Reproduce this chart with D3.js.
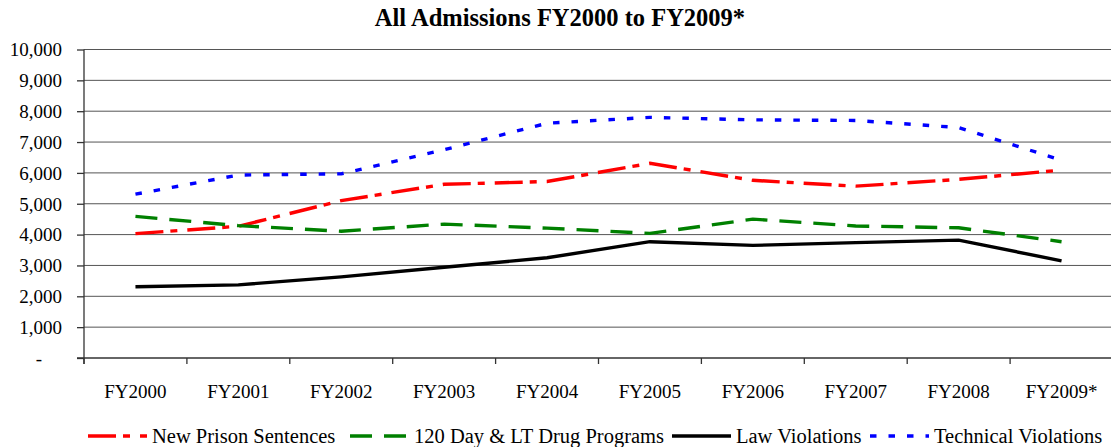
<!DOCTYPE html>
<html>
<head>
<meta charset="utf-8">
<script src="https://cdn.jsdelivr.net/npm/d3@7"></script>
<style>
    body { margin: 0; background: #fff; }
    svg { display: block; font-family: "Liberation Serif", "Times New Roman", serif; }
    .grid line { stroke: #555; stroke-width: 1; }
    .axis path, .axis line { stroke: #333; stroke-width: 1.3; }
    .axis text { fill: #000; font-size: 19px; }
    .series { fill: none; stroke-width: 3.4; }
</style>
</head>
<body>
<svg id="chart" width="1111" height="447"></svg>
<script>
const WIDTH = 1111;
const HEIGHT = 447;
const LEFT = 84;
const RIGHT = 1113;
const TOP = 49.5;
const BOTTOM = 358;
const SERIF = "'Liberation Serif', 'Times New Roman', serif";

const YEARS = ["FY2000", "FY2001", "FY2002", "FY2003", "FY2004", "FY2005", "FY2006", "FY2007", "FY2008", "FY2009*"];
const Y_TICKS = [0, 1000, 2000, 3000, 4000, 5000, 6000, 7000, 8000, 9000, 10000];

const newPrison = [4030, 4270, 5100, 5630, 5720, 6310, 5760, 5570, 5790, 6090];
const drugPrograms = [4590, 4290, 4110, 4340, 4210, 4040, 4500, 4280, 4220, 3770];
const lawViolations = [2310, 2370, 2630, 2940, 3250, 3770, 3650, 3740, 3820, 3150];
const technicalViolations = [5310, 5930, 5970, 6750, 7610, 7800, 7720, 7700, 7470, 6410];

const SERIES = [
    { name: "New Prison Sentences", values: newPrison, color: "#ff0000", dash: "28,7,7,10" },
    { name: "120 Day & LT Drug Programs", values: drugPrograms, color: "#008000", dash: "22,12" },
    { name: "Law Violations", values: lawViolations, color: "#000000", dash: null },
    { name: "Technical Violations", values: technicalViolations, color: "#0000ff", dash: "6.5,12" }
];

const svg = d3.select("#chart");

const x = d3.scaleBand().domain(YEARS).range([LEFT, RIGHT]);
const y = d3.scaleLinear().domain([0, 10000]).range([BOTTOM, TOP]);

// title
svg.append("text")
    .attr("x", 560)
    .attr("y", 26)
    .attr("text-anchor", "middle")
    .style("font-size", "24.5px")
    .style("font-weight", "bold")
    .text("All Admissions FY2000 to FY2009*");

// gridlines
svg.append("g")
    .attr("class", "grid")
    .selectAll("line")
    .data(Y_TICKS.filter(d => d > 0))
    .join("line")
    .attr("x1", LEFT)
    .attr("x2", WIDTH)
    .attr("y1", d => y(d))
    .attr("y2", d => y(d));

// y axis
const yAxis = svg.append("g")
    .attr("class", "axis")
    .attr("transform", `translate(${LEFT},0)`)
    .call(d3.axisLeft(y)
        .tickValues(Y_TICKS)
        .tickSize(7)
        .tickPadding(15)
        .tickFormat(d => d === 0 ? "-" : d3.format(",")(d)));
yAxis.attr("font-family", SERIF).attr("font-size", null);
yAxis.select(".domain").remove();
yAxis.append("line").attr("y1", TOP).attr("y2", BOTTOM + 6);
yAxis.selectAll(".tick text")
    .style("font-family", SERIF)
    .attr("dy", "0.33em")
    .filter(d => d === 0)
    .attr("x", -42);

// x axis
const xAxis = svg.append("g")
    .attr("class", "axis")
    .attr("transform", `translate(0,${BOTTOM})`);
xAxis.append("line").attr("x1", LEFT - 7).attr("x2", WIDTH);
xAxis.selectAll(".xtick")
    .data(YEARS)
    .join("line")
    .attr("x1", d => x(d))
    .attr("x2", d => x(d))
    .attr("y1", 0)
    .attr("y2", 6);
xAxis.selectAll(".xlabel")
    .data(YEARS)
    .join("text")
    .attr("x", d => x(d) + x.bandwidth() / 2)
    .attr("y", 40)
    .attr("text-anchor", "middle")
    .text(d => d);

// lines
const line = d3.line()
    .x((d, i) => x(YEARS[i]) + x.bandwidth() / 2)
    .y(d => y(d));

svg.selectAll(".series")
    .data(SERIES)
    .join("path")
    .attr("class", "series")
    .attr("d", d => line(d.values))
    .attr("stroke", d => d.color)
    .attr("stroke-dasharray", d => d.dash);

// legend
const legendX = [88, 350, 672, 870];
const legend = svg.append("g").attr("transform", "translate(0,436)");
const items = legend.selectAll("g")
    .data(SERIES)
    .join("g")
    .attr("transform", (d, i) => `translate(${legendX[i]},0)`);
items.append("line")
    .attr("x1", 0)
    .attr("x2", 59)
    .attr("stroke", d => d.color)
    .attr("stroke-width", 3.4)
    .attr("stroke-dasharray", d => d.dash);
items.append("text")
    .attr("x", 64)
    .attr("y", 6.5)
    .style("font-size", "20.5px")
    .text(d => d.name);
</script>
</body>
</html>
